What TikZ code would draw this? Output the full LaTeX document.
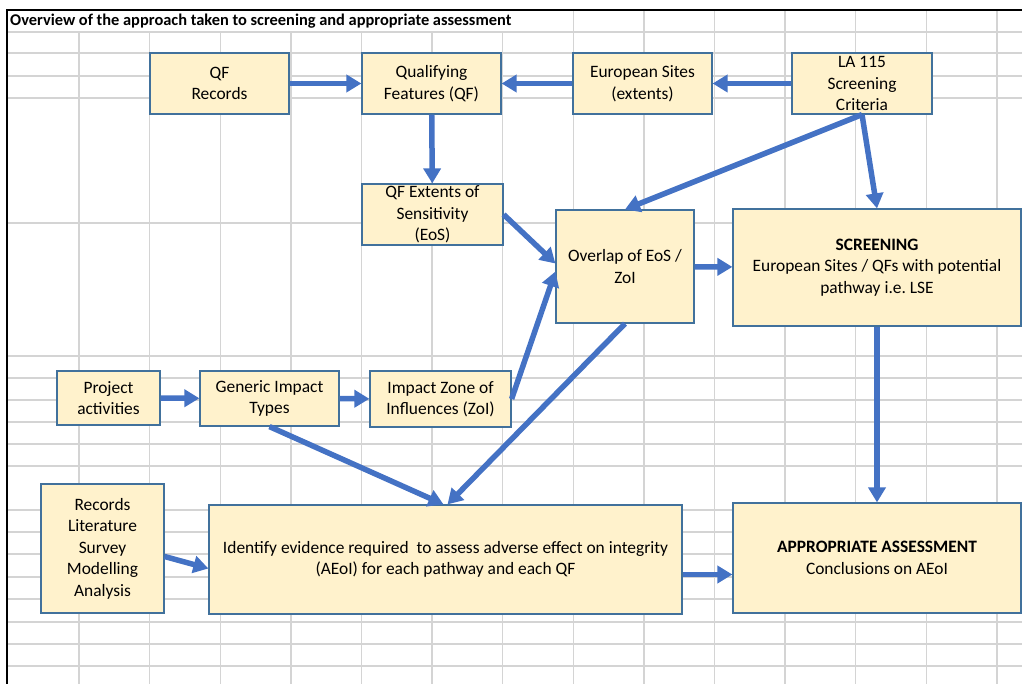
\documentclass[tikz,border=0pt]{standalone}
\usepackage{fontspec}
\setmainfont{Carlito}
\usetikzlibrary{arrows.meta}
\frenchspacing

\definecolor{boxfill}{HTML}{FFF2CC}
\definecolor{boxline}{HTML}{41719C}
\definecolor{flowblue}{HTML}{4472C4}
\definecolor{cellgrid}{HTML}{D4D4D4}

\begin{document}
\begin{tikzpicture}[x=1pt,y=-1pt,>={Triangle[width=17pt,length=15pt]},
                    flow/.style={->,draw=flowblue,line width=5.5pt},
                    box/.style={draw=boxline,fill=boxfill,line width=1.2pt,inner sep=0pt,
                                align=center,font=\fontsize{17.4}{21.5}\selectfont},
                    gridline/.style={cellgrid,line width=1.3pt}]

  \useasboundingbox (0,0) rectangle (1022,684);

  % spreadsheet cells behind the chart
  \foreach \k in {1,...,7}
    \draw[gridline] ({8.5+70.6*\k},32) -- ({8.5+70.6*\k},684);
  \foreach \k in {8,...,14}
    \draw[gridline] ({8.5+70.6*\k},10) -- ({8.5+70.6*\k},684);
  \foreach \gy in {32,53,76,98,223,356,378,400,422,444,466,510,532,554,577,599,622,644,666}
    \draw[gridline] (7,\gy) -- (1022,\gy);
  \draw[line width=1.5pt] (7,10) -- (1022,10);
  \draw[line width=2.5pt] (7,9.25) -- (7,684);

  \node[anchor=base west,inner sep=0pt,font=\bfseries\fontsize{16.4}{19}\selectfont]
    (title) at (10,26) {Overview of the approach taken to screening and appropriate assessment};

  % top row
  \node[box,minimum width=139pt,minimum height=61pt] (qfrec)   at (219.5,83.5) {QF\\Records};
  \node[box,minimum width=139pt,minimum height=61pt] (qf)      at (431.5,83.5) {Qualifying\\Features (QF)};
  \node[box,minimum width=139pt,minimum height=61pt] (eusites) at (642.5,83.5) {European Sites\\(extents)};
  \node[box,minimum width=140pt,minimum height=61pt] (la)      at (862,83.5)   {LA 115\\Screening\\Criteria};

  % screening
  \node[box,minimum width=141pt,minimum height=61pt]  (eos)     at (432.5,214.5) {QF Extents of\\Sensitivity\\(EoS)};
  \node[box,minimum width=138pt,minimum height=113pt] (overlap) at (625,266.5)   {Overlap of EoS /\\ZoI};
  \node[box,minimum width=288pt,minimum height=117pt] (screen)  at (877,267.5)
    {\textbf{SCREENING}\\European Sites / QFs with potential\\pathway i.e. LSE};

  % impacts
  \node[box,minimum width=103pt,minimum height=54pt] (project) at (108.5,398) {Project\\activities};
  \node[box,minimum width=139pt,minimum height=55pt] (generic) at (269.5,398.5) {Generic Impact\\Types};
  \node[box,minimum width=141pt,minimum height=56pt] (zoi)     at (440.5,399) {Impact Zone of\\Influences (ZoI)};

  % assessment
  \node[box,minimum width=123pt,minimum height=129pt] (records) at (102.5,548.5)
    {Records\\Literature\\Survey\\Modelling\\Analysis};
  \node[box,minimum width=473pt,minimum height=109pt] (ident)   at (445.5,559.5)
    {Identify evidence required~ to assess adverse effect on integrity\\(AEoI) for each pathway and each QF};
  \node[box,minimum width=288pt,minimum height=110pt] (aa)      at (877,558)
    {\textbf{APPROPRIATE ASSESSMENT}\\Conclusions on AEoI};

  \draw[flow] (qfrec) -- (qf);
  \draw[flow] (eusites) -- (qf);
  \draw[flow] (la) -- (eusites);
  \draw[flow] (qf) -- (eos);
  \draw[flow] (la.south) -- (overlap.north);
  \draw[flow] (la.south) -- (screen.north);
  \draw[flow] (eos.east) -- ([yshift=3pt]overlap.west);
  \draw[flow] (zoi.east) -- ([yshift=-5pt]overlap.west);
  \draw[flow] (overlap) -- (screen);
  \draw[flow] (project) -- (generic);
  \draw[flow] (generic) -- (zoi);
  \draw[flow] (generic.south) -- ([xshift=-2pt]ident.north);
  \draw[flow] (overlap.south) -- ([xshift=2pt]ident.north);
  \draw[flow] ([yshift=-8pt]records.east) -- ([yshift=-9pt]ident.west);
  \coordinate (ie) at ([yshift=-15pt]ident.east);
  \draw[flow] (ie) -- (ie -| aa.west);
  \draw[flow] (screen) -- (aa);
\end{tikzpicture}
\end{document}
